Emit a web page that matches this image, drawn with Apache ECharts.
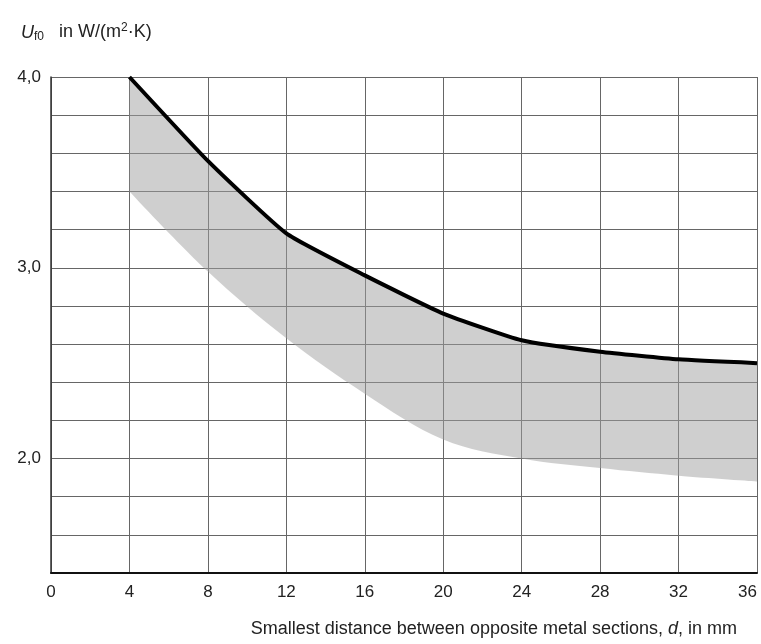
<!DOCTYPE html>
<html>
<head>
<meta charset="utf-8">
<script src="https://cdn.jsdelivr.net/npm/echarts@6/dist/echarts.min.js"></script>
<style>
  html, body { margin: 0; padding: 0; background: #fff; }
  #chart { width: 761px; height: 644px; }
</style>
</head>
<body>
<div id="chart"></div>
<script>
// d in mm (axis categories, also the tick labels)
const distances = ['0', '4', '8', '12', '16', '20', '24', '28', '32', '36'];
// upper limit (black line), null where no value
const upperU = [null, 4.0, 3.56, 3.18, 2.96, 2.76, 2.62, 2.56, 2.52, 2.50];
// lower edge of the grey band
const lowerU = [null, 3.4, 2.98, 2.63, 2.34, 2.10, 2.00, 1.95, 1.91, 1.88];

const font = 'Liberation Sans, Arial, sans-serif';
const chart = echarts.init(document.getElementById('chart'));

const bandU = upperU.map((u, i) => u == null ? null : +(u - lowerU[i]).toFixed(3));

chart.setOption({
  backgroundColor: '#fff',
  animation: false,
  title: {
    text: '{u|U}{s|f0}   {t|in W/(m}{sup|2}{t|·K)}',
    left: 16,
    top: 17,
    textStyle: {
      fontWeight: 'normal',
      rich: {
        u: { fontFamily: font, fontStyle: 'italic', fontWeight: 'normal', fontSize: 18, color: '#222' },
        s: { fontFamily: font, fontWeight: 'normal', fontSize: 12, color: '#222', padding: [9, 0, 0, 0] },
        t: { fontFamily: font, fontWeight: 'normal', fontSize: 18, color: '#222' },
        sup: { fontFamily: font, fontWeight: 'normal', fontSize: 12, color: '#222', padding: [0, 0, 9, 0] }
      }
    }
  },
  grid: { left: 51, right: 4, top: 77, bottom: 71, containLabel: false, outerBoundsMode: 'none' },
  xAxis: {
    type: 'category',
    data: distances,
    boundaryGap: false,
    name: 'Smallest distance between opposite metal sections, {i|d}, in mm',
    nameLocation: 'end',
    nameGap: -20,
    nameMoveOverlap: false,
    nameTextStyle: {
      fontFamily: font,
      fontSize: 18,
      color: '#222',
      align: 'right',
      verticalAlign: 'top',
      padding: [47, 0, 0, 0],
      rich: { i: { fontFamily: font, fontSize: 18, fontStyle: 'italic', color: '#222' } }
    },
    axisLine: { show: true, lineStyle: { color: '#111', width: 2 } },
    axisTick: { show: false },
    axisLabel: { fontFamily: font, fontSize: 17, color: '#222', margin: 11, interval: 0, alignMaxLabel: 'right' },
    splitLine: { show: true, interval: 0, lineStyle: { color: '#666', width: 1 } }
  },
  yAxis: {
    type: 'value',
    min: 1.4,
    max: 4.0,
    interval: 0.2,
    axisLine: { show: true, lineStyle: { color: '#333', width: 1.5 } },
    axisTick: { show: false },
    axisLabel: {
      fontFamily: font, fontSize: 17, color: '#222', margin: 10,
      formatter: v => Math.abs(v - Math.round(v)) < 1e-6 ? Math.round(v).toFixed(1).replace('.', ',') : ''
    },
    splitLine: { show: true, lineStyle: { color: '#666', width: 1 } }
  },
  series: [
    {
      name: 'lower',
      type: 'line',
      stack: 'band',
      data: lowerU,
      smooth: 0.35,
      smoothMonotone: 'x',
      symbol: 'none',
      lineStyle: { opacity: 0 },
      silent: true
    },
    {
      name: 'band',
      type: 'line',
      stack: 'band',
      data: bandU,
      smooth: false,
      symbol: 'none',
      lineStyle: { opacity: 0 },
      areaStyle: { color: 'rgba(160,160,160,0.5)', opacity: 1 },
      silent: true
    },
    {
      name: 'upper',
      type: 'line',
      data: upperU,
      smooth: 0.15,
      symbol: 'none',
      lineStyle: { color: '#000', width: 4 },
      z: 5
    }
  ]
});
</script>
</body>
</html>
